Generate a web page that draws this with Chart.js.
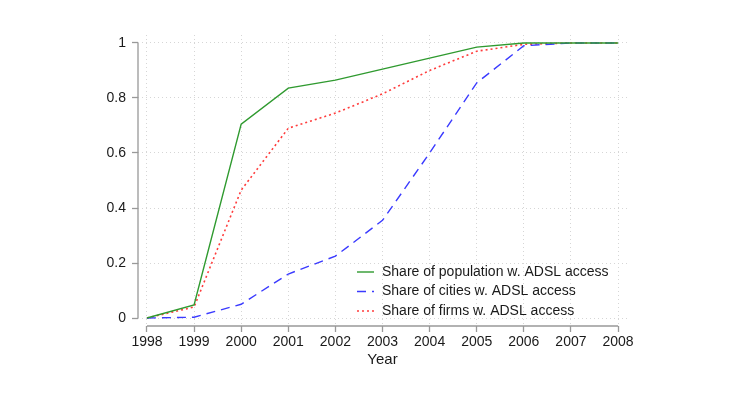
<!DOCTYPE html>
<html>
<head>
<meta charset="utf-8">
<script src="https://cdn.jsdelivr.net/npm/chart.js@4"></script>
<style>
  html, body { margin: 0; padding: 0; background: #fff; }
  #wrap { width: 730px; height: 410px; }
</style>
</head>
<body>
<div id="wrap"><canvas id="chart" width="730" height="410"></canvas></div>
<script>
const years = [1998, 1999, 2000, 2001, 2002, 2003, 2004, 2005, 2006, 2007, 2008];
const population = [0, 0.048, 0.705, 0.836, 0.865, 0.905, 0.945, 0.985, 1.0, 1.0, 1.0];
const cities = [0, 0.003, 0.05, 0.16, 0.225, 0.355, 0.6, 0.855, 0.99, 1.0, 1.0];
const firms = [0, 0.04, 0.465, 0.69, 0.745, 0.815, 0.9, 0.97, 0.995, 1.0, 1.0];
const yTicks = [0, 0.2, 0.4, 0.6, 0.8, 1];
const labels = ["Share of population w. ADSL access", "Share of cities w. ADSL access", "Share of firms w. ADSL access"];

const font = "'Liberation Sans', Arial, sans-serif";
const textColor = "#1a1a1a";
const axisColor = "#999";

function pts(vals) {
    return years.map((y, i) => ({ x: y, y: vals[i] }));
}

// Stata-style axis lines that span only the tick range, plus inside legend
const stataAxes = {
    id: "stataAxes",
    afterDraw(chart) {
        const ctx = chart.ctx;
        const xs = chart.scales.x, ys = chart.scales.y;
        const area = chart.chartArea;
        ctx.save();
        ctx.strokeStyle = axisColor;
        ctx.lineWidth = 1.3;
        ctx.beginPath();
        ctx.moveTo(area.left, ys.getPixelForValue(0));
        ctx.lineTo(area.left, ys.getPixelForValue(1));
        ctx.moveTo(xs.getPixelForValue(years[0]), area.bottom);
        ctx.lineTo(xs.getPixelForValue(years[years.length - 1]), area.bottom);
        ctx.stroke();

        // legend
        const lx = 357, ly = 272, gap = 19.5;
        ctx.font = "14px " + font;
        ctx.textBaseline = "middle";
        chart.data.datasets.forEach((ds, i) => {
            const y = ly + i * gap;
            ctx.strokeStyle = ds.borderColor;
            ctx.lineWidth = ds.borderWidth;
            ctx.setLineDash(ds.borderDash || []);
            ctx.beginPath();
            ctx.moveTo(lx, y);
            ctx.lineTo(lx + 17, y);
            ctx.stroke();
            ctx.setLineDash([]);
            ctx.fillStyle = textColor;
            ctx.fillText(ds.label, lx + 25, y);
        });
        ctx.restore();
    }
};

new Chart(document.getElementById("chart"), {
    type: "line",
    data: {
        datasets: [
            { label: labels[0], data: pts(population), borderColor: "#2f9a2f", borderWidth: 1.4, pointRadius: 0, tension: 0 },
            { label: labels[1], data: pts(cities), borderColor: "#3a3aff", borderWidth: 1.4, borderDash: [9, 6], pointRadius: 0, tension: 0 },
            { label: labels[2], data: pts(firms), borderColor: "#ff3c3c", borderWidth: 1.6, borderDash: [2, 3], pointRadius: 0, tension: 0 }
        ]
    },
    options: {
        responsive: false,
        animation: false,
        layout: { padding: { left: 0, right: 103, top: 35, bottom: 41 } },
        plugins: { legend: { display: false }, tooltip: { enabled: false } },
        scales: {
            x: {
                type: "linear",
                min: 1997.81,
                max: 2008.19,
                afterBuildTicks: s => { s.ticks = years.map(v => ({ value: v })); },
                afterFit: s => { s.height = 43; },
                ticks: {
                    color: textColor,
                    font: { family: font, size: 14 },
                    padding: 2,
                    maxRotation: 0,
                    callback: v => String(v)
                },
                grid: { color: "#d6d6d6", tickColor: axisColor, tickLength: 6, tickBorderDash: [], tickWidth: 1.3, lineWidth: 1 },
                border: { display: false, dash: [1, 3] },
                title: { display: true, text: "Year", color: textColor, font: { family: font, size: 15 }, padding: { top: 1, bottom: 0 } }
            },
            y: {
                min: -0.029,
                max: 1.029,
                afterBuildTicks: s => { s.ticks = yTicks.map(v => ({ value: v })); },
                afterFit: s => { s.width = 138; },
                ticks: {
                    color: textColor,
                    font: { family: font, size: 14 },
                    padding: 6,
                    callback: v => String(v)
                },
                grid: { color: "#d6d6d6", tickColor: axisColor, tickLength: 6, tickBorderDash: [], tickWidth: 1.3, lineWidth: 1 },
                border: { display: false, dash: [1, 3] }
            }
        }
    },
    plugins: [stataAxes]
});
</script>
</body>
</html>
